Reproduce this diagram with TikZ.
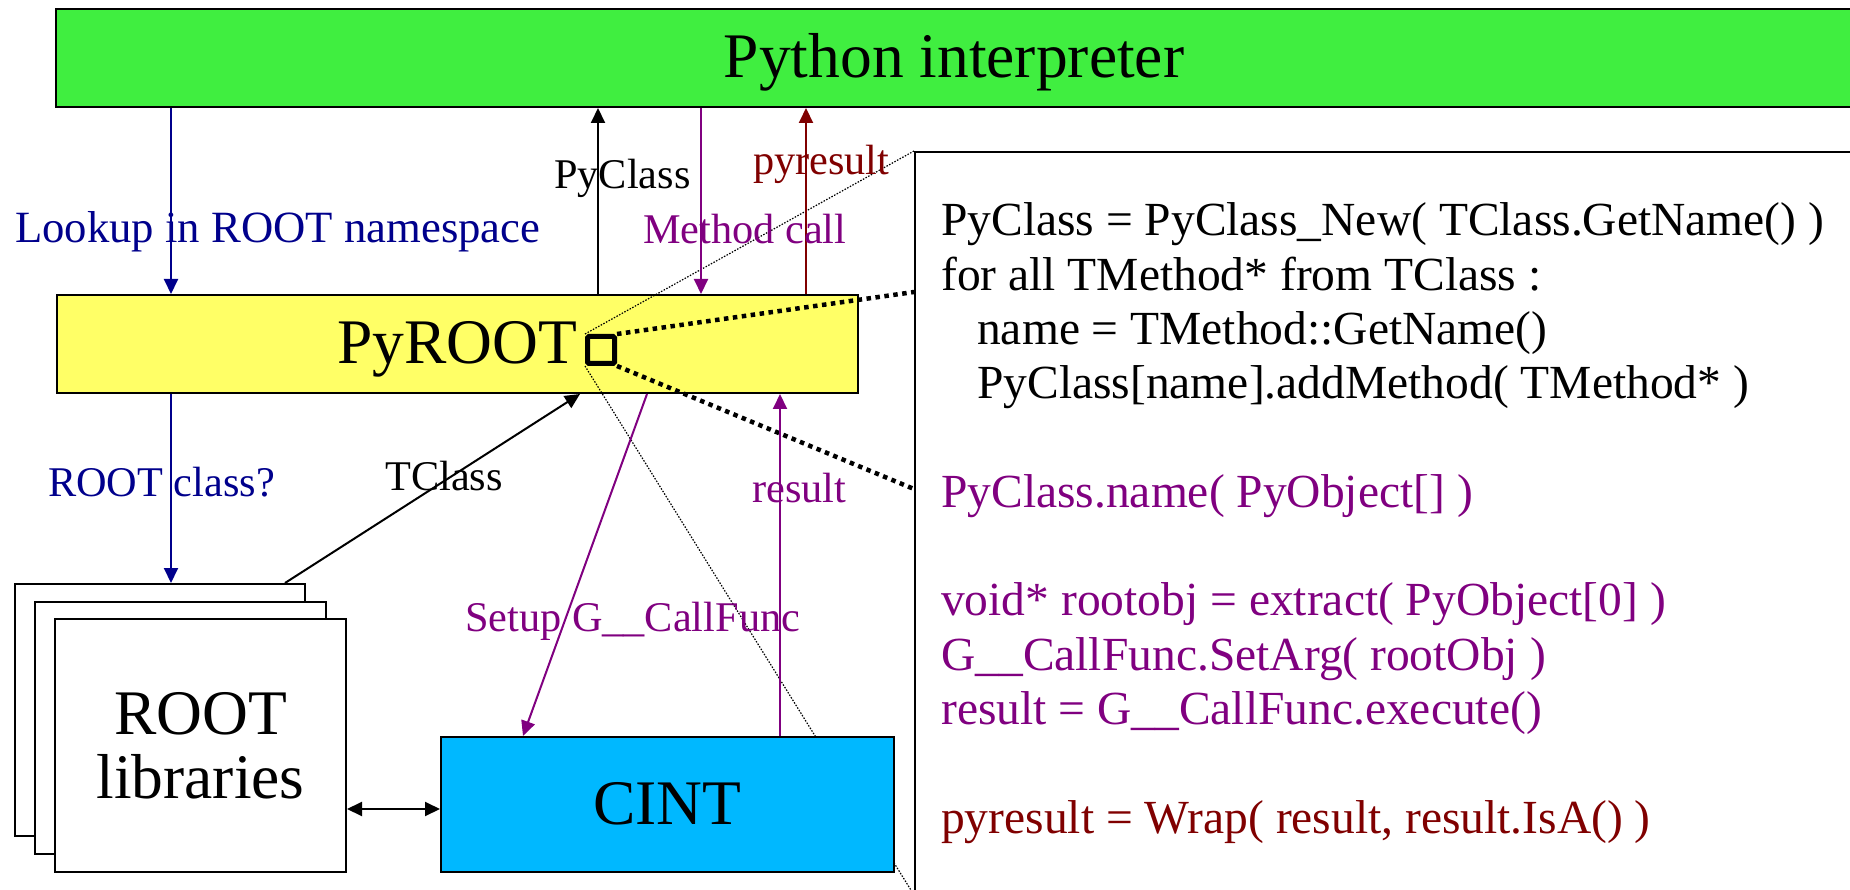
\documentclass[tikz,border=0pt]{standalone}
\usepackage{fontspec}
\setmainfont{Liberation Serif}
\usetikzlibrary{arrows.meta}

\definecolor{pyGreen}{RGB}{64,238,64}
\definecolor{rootYellow}{RGB}{255,255,102}
\definecolor{cintCyan}{RGB}{0,184,255}
\definecolor{lookupBlue}{RGB}{0,0,140}
\definecolor{callPurple}{RGB}{128,0,128}
\definecolor{resultRed}{RGB}{128,0,0}

\begin{document}
\begin{tikzpicture}
        [x=1pt, y=-1pt,
        box/.style={draw=black, line width=2pt, inner sep=0pt},
        bigText/.style={font=\fontsize{63.5}{64}\selectfont, text height=40pt, text depth=0pt},
        flow/.style={line width=2pt, -{Triangle[length=15pt,width=14pt]}},
        tag/.style={inner sep=0pt, anchor=base west, font=\fontsize{42.3}{50}\selectfont},
        lens/.style={draw=black, line width=5pt, minimum size=27pt, inner sep=0pt, rounded corners=1.5pt},
        thinZoom/.style={line width=1.2pt, dash pattern=on 1.5pt off 1.5pt},
        thickZoom/.style={line width=4.5pt, dash pattern=on 4.5pt off 4.5pt}]
%
\useasboundingbox (0,0) rectangle (1850,890);
%%
%% The boxes
%%
\node[box, bigText, fill=pyGreen, minimum width=1796pt, minimum height=98pt] (python) at (954,58) {Python interpreter};
\node[box, fill=white, anchor=north west, minimum width=960pt, minimum height=742pt] (codebox) at (914,151) {};
\node[box, bigText, fill=rootYellow, minimum width=801pt, minimum height=98pt] (pyroot) at (457.5,344) {PyROOT};
%%
%% The zoom on PyROOT
%%
\node[lens] (lens) at (601,350) {};
\coordinate (zoomTop) at (914,292);
\coordinate (zoomBottom) at (914,489);
\draw[thinZoom] (lens.north west) -- (codebox.north west);
\draw[thinZoom] (lens.south west) -- (codebox.south west);
\draw[thickZoom] (lens.north east) -- (zoomTop);
\draw[thickZoom] (lens.south east) -- (zoomBottom);
%%
%% ROOT libraries and CINT
%%
\node[box, fill=white, minimum width=290pt, minimum height=252pt] (libsA) at (160,710) {};
\node[box, fill=white, minimum width=291pt, minimum height=252pt] (libsB) at (180.5,728) {};
\node[box, fill=white, minimum width=291pt, minimum height=253pt, align=center,
      font=\fontsize{63.5}{64}\selectfont] (libs) at (200.5,745.5) {ROOT\\libraries};
\node[box, bigText, fill=cintCyan, minimum width=453pt, minimum height=135pt] (cint) at (667.5,804.5) {CINT};
%%
%% Arrows
%%
\draw[flow, lookupBlue] (python.south -| 171,0) -- (pyroot.north -| 171,0);
\draw[flow, black] (pyroot.north -| 598,0) -- (python.south -| 598,0);
\draw[flow, callPurple] (python.south -| 701,0) -- (pyroot.north -| 701,0);
\draw[flow, resultRed] (pyroot.north -| 806,0) -- (python.south -| 806,0);
\draw[flow, lookupBlue] (pyroot.south -| 171,0) -- (libsA.north -| 171,0);
\draw[flow, black] (libsA.north -| 285,0) -- (pyroot.south -| 580,0);
\draw[flow, callPurple] (pyroot.south -| 647,0) -- (cint.north -| 523,0);
\draw[flow, callPurple] (cint.north -| 780,0) -- (pyroot.south -| 780,0);
\draw[line width=2pt, {Triangle[length=15pt,width=14pt]}-{Triangle[length=15pt,width=14pt]}]
      (libs.east |- 0,809) -- (cint.west |- 0,809);
%%
%% Labels on the arrows
%%
\node[tag, lookupBlue, font=\fontsize{44.7}{50}\selectfont] (lookup) at (15,243) {Lookup in ROOT namespace};
\node[tag] (pyclass) at (554,189) {PyClass};
\node[tag, callPurple] (methodcall) at (643,244) {Method call};
\node[tag, resultRed] (pyresult) at (753,175) {pyresult};
\node[tag, lookupBlue] (rootclass) at (48,496) {ROOT class?};
\node[tag] (tclass) at (385,490) {TClass};
\node[tag, callPurple] (setup) at (465,631) {Setup G\_\_CallFunc};
\node[tag, callPurple] (result) at (752,502) {result};
%%
%% The code (base is the last line)
%%
\node[inner sep=0pt, anchor=base west, align=left, font=\fontsize{47.5}{54.3}\selectfont] (code) at (941,833)
  {PyClass = PyClass\_New( TClass.GetName() )\\
   for all TMethod* from TClass :\\
   \hspace*{36pt}name = TMethod::GetName()\\
   \hspace*{36pt}PyClass[name].addMethod( TMethod* )\\[54.3pt]
   \textcolor{callPurple}{PyClass.name( PyObject[] )}\\[54.3pt]
   \textcolor{callPurple}{void* rootobj = extract( PyObject[0] )}\\
   \textcolor{callPurple}{G\_\_CallFunc.SetArg( rootObj )}\\
   \textcolor{callPurple}{result = G\_\_CallFunc.execute()}\\[54.3pt]
   \textcolor{resultRed}{pyresult = Wrap( result, result.IsA() )}};

\end{tikzpicture}
\end{document}
